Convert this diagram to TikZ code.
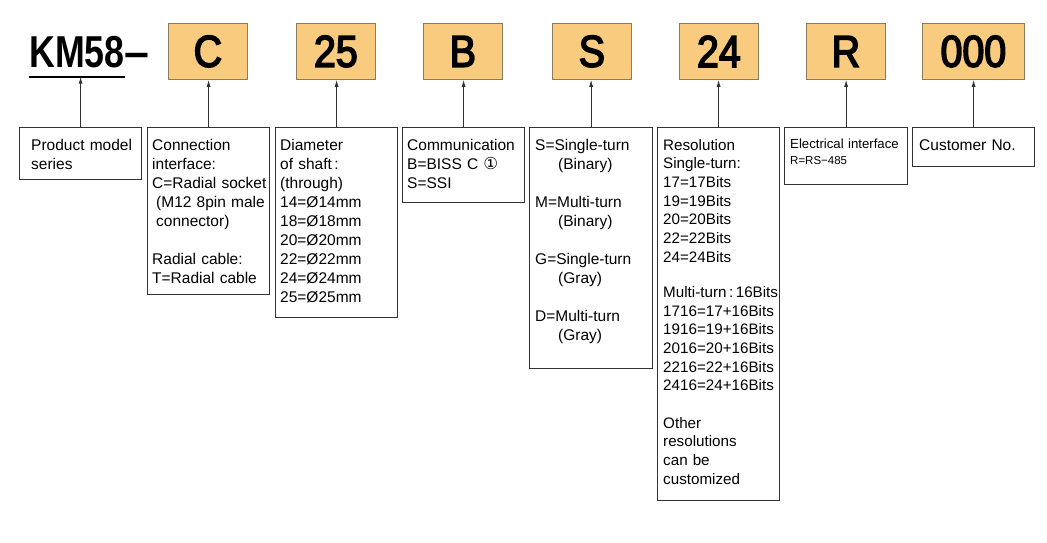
\documentclass[tikz,border=0pt]{standalone}
\usepackage{fontspec}
\setmainfont{Liberation Sans}
\newfontfamily\codefont[FakeStretch=0.88,FakeBold=3.5]{Liberation Sans}
\newfontfamily\kmfont[FakeStretch=0.8]{Liberation Sans}
\newfontfamily\symfont{DejaVu Sans}
\usepackage{tikz}
\usetikzlibrary{arrows.meta,positioning,calc}
\definecolor{codeOrange}{HTML}{F8CB7E}
\definecolor{codeEdge}{HTML}{8C7A5C}
\definecolor{lineGray}{HTML}{333333}

\begin{document}
\begin{tikzpicture}[x=1pt, y=-1pt,
  font=\fontsize{15.5}{19}\selectfont,
  code/.style={draw=codeEdge, line width=0.8pt, fill=codeOrange, anchor=north west,
    minimum width=79pt, minimum height=56pt, inner sep=0pt,
    font=\codefont\fontsize{44.7}{44.7}\selectfont},
  desc/.style={draw=lineGray, line width=1.2pt, anchor=north west, minimum width=122pt, inner sep=0pt},
  txt/.style={anchor=base west, inner sep=0pt, align=left, text width=125pt},
  arr/.style={draw=lineGray, line width=0.9pt, -{Latex[length=7pt,width=4pt]}}]
\path[use as bounding box, fill=white] (0,0) rectangle (1047,542);
% model code: KM58- C 25 B S 24 R 000
\node[anchor=base west, inner xsep=0pt, inner ysep=9pt,
  font=\kmfont\bfseries\fontsize{44.7}{44.7}\selectfont] (km) at (29,67) {KM58};
\node[anchor=base west, inner sep=0pt,
  font=\bfseries\fontsize{44.7}{44.7}\selectfont] (kmdash) at (km.base east) {–};
\draw[line width=2pt] (km.south west) -- (km.south east);
\node[code] (cC) at (168,23) {C};
\node[code] (c25) at (296,23) {25};
\node[code] (cB) at (423,23) {B};
\node[code] (cS) at (552,23) {S};
\node[code] (c24) at (679,23) {24};
\node[code] (cR) at (806,23) {R};
\node[code, minimum width=102pt] (c000) at (922,23) {000};
% description boxes
\node[desc, minimum height=52pt] (dModel) at (19,127) {};
\node[txt] (tModel) at ([shift={(12,23)}]dModel.north west) {Product model\\series};
\node[desc, minimum height=167pt] (dConn) at (147,127) {};
\node[txt] (tConn) at ([shift={(5,23)}]dConn.north west) {Connection\\
interface:\\
C=Radial socket\\
\hspace*{4pt}(M12 8pin male\\
\hspace*{4pt}connector)\\[19pt]
Radial cable:\\
T=Radial cable};
\node[desc, minimum height=190pt] (dShaft) at (275,127) {};
\node[txt] (tShaft) at ([shift={(5,23)}]dShaft.north west) {Diameter\\
of shaft\,:\\
(through)\\
14=Ø14mm\\
18=Ø18mm\\
20=Ø20mm\\
22=Ø22mm\\
24=Ø24mm\\
25=Ø25mm};
\node[desc, minimum height=75pt] (dComm) at (402,127) {};
\node[txt] (tComm) at ([shift={(5,23)}]dComm.north west) {Communication\\
B=BISS C {\symfont\fontsize{16.5}{19}\selectfont ①}\\
S=SSI};
\node[desc, minimum width=123pt, minimum height=241pt] (dTurn) at (529,127) {};
\node[txt] (tTurn) at ([shift={(6,23)}]dTurn.north west) {S=Single-turn\\
\hspace*{23pt}(Binary)\\[19pt]
M=Multi-turn\\
\hspace*{23pt}(Binary)\\[19pt]
G=Single-turn\\
\hspace*{23pt}(Gray)\\[19pt]
D=Multi-turn\\
\hspace*{23pt}(Gray)};
\node[desc, minimum height=373pt] (dRes) at (657,127) {};
\node[txt, font=\fontsize{15.2}{18.7}\selectfont] (tRes) at ([shift={(6,23)}]dRes.north west) {Resolution\\
Single-turn:\\
17=17Bits\\
19=19Bits\\
20=20Bits\\
22=22Bits\\
24=24Bits\\[16.5pt]
Multi-turn\,:\,16Bits\\
1716=17+16Bits\\
1916=19+16Bits\\
2016=20+16Bits\\
2216=22+16Bits\\
2416=24+16Bits\\[18.6pt]
Other\\
resolutions\\
can be\\
customized};
\node[desc, minimum width=123pt, minimum height=57pt] (dElec) at (784,127) {};
\node[txt, font=\fontsize{13.2}{16}\selectfont] (tElec) at ([shift={(6,21)}]dElec.north west) {Electrical interface\\
{\fontsize{11.5}{16}\selectfont R=RS−485}};
\node[desc, minimum height=39pt] (dCust) at (912,127) {};
\node[txt] (tCust) at ([shift={(7,23)}]dCust.north west) {Customer No.};
% arrows up to the code boxes
\draw[arr] (dModel.north) -- (dModel.north |- km.south);
\foreach \d/\c in {dConn/cC, dShaft/c25, dComm/cB, dTurn/cS, dRes/c24, dElec/cR, dCust/c000}
  \draw[arr] (\d.north) -- (\d.north |- \c.south);
\end{tikzpicture}
\end{document}
